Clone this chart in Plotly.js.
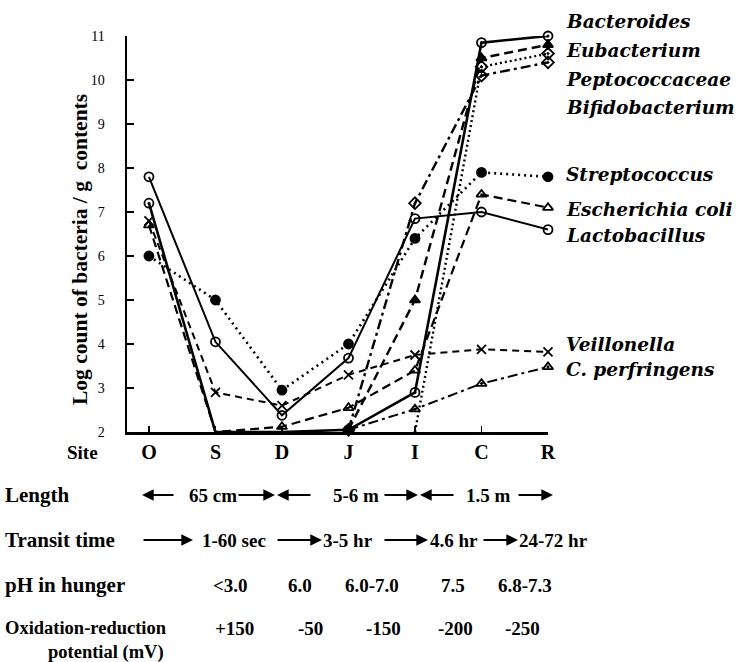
<!DOCTYPE html>
<html><head><meta charset="utf-8">
<script src="https://cdn.plot.ly/plotly-3.0.1.min.js"></script>
<style>body{margin:0;background:#fff}#chart{width:756px;height:662px}</style>
</head><body><div id="chart"></div>
<script>
// ---- data ----
const sites = ['O','S','D','J','I','C','R'];
const bacteroides     = [7.2, 2.0, 2.0, 2.05, 2.9, 10.85, 11.0];
const eubacterium     = [null, null, null, 2.05, 5.0, 10.5, 10.8];
const peptococcaceae  = [null, null, null, null, 2.0, 10.3, 10.6];
const bifidobacterium = [null, null, null, 2.05, 7.2, 10.1, 10.4];
const streptococcus   = [6.0, 5.0, 2.95, 4.0, 6.4, 7.9, 7.8];
const escherichia     = [6.7, 2.0, 2.12, 2.55, 3.4, 7.4, 7.1];
const lactobacillus   = [7.8, 4.05, 2.38, 3.68, 6.85, 7.0, 6.6];
const veillonella     = [6.8, 2.9, 2.6, 3.3, 3.75, 3.88, 3.82];
const perfringens     = [null, null, null, 2.05, 2.52, 3.1, 3.48];

const seriesNames = ['Bacteroides','Eubacterium','Peptococcaceae','Bifidobacterium',
  'Streptococcus','Escherichia coli','Lactobacillus','Veillonella','C. perfringens'];

const rowLabels = ['Length','Transit time','pH in hunger'];
const lengthTexts  = ['65 cm','5-6 m','1.5 m'];
const transitTexts = ['1-60 sec','3-5 hr','4.6 hr','24-72 hr'];
const phTexts      = ['<3.0','6.0','6.0-7.0','7.5','6.8-7.3'];
const orpTexts     = ['+150','-50','-150','-200','-250'];

// ---- styling ----
const xi = sites.map((s,i)=>i);
const styles = [
  {d:bacteroides,     dash:'solid',            w:2.6, sym:'circle-open-dot'},
  {d:eubacterium,     dash:'9px,5px',          w:2.4, sym:'triangle-up'},
  {d:peptococcaceae,  dash:'2px,3px',          w:2.4, sym:'diamond-open-dot'},
  {d:bifidobacterium, dash:'10px,4px,3px,4px', w:2.4, sym:'diamond-open-dot'},
  {d:streptococcus,   dash:'2px,4px',          w:2.6, sym:'circle'},
  {d:escherichia,     dash:'9px,5px',          w:2.2, sym:'triangle-up-open'},
  {d:lactobacillus,   dash:'solid',            w:2.0, sym:'circle-open'},
  {d:veillonella,     dash:'7px,5px',          w:2.0, sym:'x-thin-open'},
  {d:perfringens,     dash:'10px,4px,3px,4px', w:2.0, sym:'triangle-up-open-dot'}
];
const traces = styles.map((s,k)=>({
  type:'scatter', mode:'lines+markers', name:seriesNames[k],
  x:xi, y:s.d, cliponaxis:false,
  line:{color:'#000', width:s.w, dash:s.dash},
  marker:{symbol:s.sym, size:s.d.map(v=> (v===null||v<=2.0)?0:9), color:'#000', opacity:1,
          line:{color:'#000', width:1.8}},
  hoverinfo:'skip'
}));

// pixel helpers for layout text
const L=127, R=548, T=36, B=432;
const PX = p => (p-L)/(R-L);
const PY = p => (B-p)/(B-T);
const serif = '"Liberation Serif", "Times New Roman", Times, serif';
const dserif = '"DejaVu Serif", serif';
const ann = [];
function txt(s, cx, cy, size, xa='center', extra={}) {
  ann.push(Object.assign({text:'<b>'+s+'</b>', xref:'paper', yref:'paper', x:PX(cx), y:PY(cy),
    xanchor:xa, yanchor:'middle', showarrow:false,
    font:{family:serif, size:size, color:'#000'}}, extra));
}
function arrow(tail, head, cy) {
  ann.push({text:'', xref:'paper', yref:'paper', x:PX(head), y:PY(cy),
    ax: tail-head, ay:0, axref:'pixel', ayref:'pixel', showarrow:true,
    arrowhead:2, arrowsize:1.3, arrowwidth:1.8, arrowcolor:'#000', standoff:0, startstandoff:0});
}

// right-hand labels
const labelY = [21, 50, 79, 107, 174, 209, 236, 344, 369];
seriesNames.forEach((n,k)=>{
  ann.push({text:'<b><i>'+n+'</i></b>', xref:'paper', yref:'paper', x:PX(564), y:PY(labelY[k]),
    xanchor:'left', yanchor:'middle', showarrow:false,
    font:{family:dserif, size:18.5, color:'#000'}});
});

// y title
ann.push({text:'<b>Log count of bacteria / g\u00a0 contents</b>', xref:'paper', yref:'paper',
  x:PX(80), y:PY(250), textangle:-90, showarrow:false, xanchor:'center', yanchor:'middle',
  font:{family:serif, size:21.5, color:'#000'}});

// Site row label
txt('Site', 82, 452, 19);

// Length row
txt(rowLabels[0], 3, 495, 21, 'left');
arrow(175, 142, 495); txt(lengthTexts[0], 213, 495, 19); arrow(237, 275, 495);
arrow(312, 277, 495); txt(lengthTexts[1], 356, 495, 19); arrow(383, 418, 495);
arrow(455, 420, 495); txt(lengthTexts[2], 488, 495, 19); arrow(517, 553, 495);

// Transit row
txt(rowLabels[1], 3, 540, 21, 'left');
arrow(142, 193, 540); txt(transitTexts[0], 234, 540, 19);
arrow(276, 322, 540); txt(transitTexts[1], 348, 540, 19);
arrow(383, 428, 540); txt(transitTexts[2], 454, 540, 19);
arrow(482, 518, 540); txt(transitTexts[3], 553, 540, 19);

// pH row
txt(rowLabels[2], 3, 585, 21, 'left');
[230, 300, 372, 453, 525].forEach((cx,i)=>txt(phTexts[i], cx, 585, 19));

// ORP row
txt('Oxidation-reduction', 3, 628, 18.5, 'left');
txt('potential (mV)', 166, 652, 18.5, 'right');
[234, 310, 383, 455, 522].forEach((cx,i)=>txt(orpTexts[i], cx, 628, 19));

const layout = {
  width:756, height:662, paper_bgcolor:'#fff', plot_bgcolor:'#fff',
  margin:{l:L, r:756-R, t:T, b:662-B},
  showlegend:false,
  xaxis:{range:[-0.33, 6], tickvals:xi, ticktext:sites.map(s=>'<b>'+s+'</b>'), ticks:'inside', ticklen:6, tickwidth:1.6,
    tickcolor:'#000', showline:true, linewidth:2.5, linecolor:'#000', showgrid:false, zeroline:false,
    tickfont:{family:serif, size:20, color:'#000'}, fixedrange:true},
  yaxis:{range:[2, 11], dtick:1, tick0:2, ticks:'inside', ticklen:7, tickwidth:2, tickcolor:'#000',
    showline:true, linewidth:2.5, linecolor:'#000', showgrid:false, zeroline:false,
    ticklabelstandoff:17,
    tickfont:{family:serif, size:14, color:'#000'}, fixedrange:true},
  annotations:ann
};
Plotly.newPlot('chart', traces, layout, {staticPlot:true, displayModeBar:false});
</script></body></html>
